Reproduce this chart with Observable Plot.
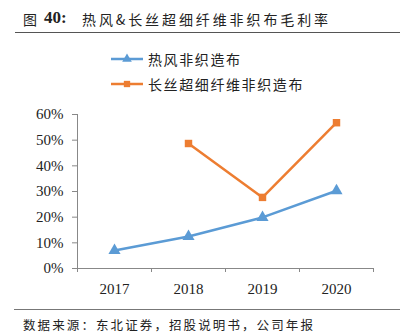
<!DOCTYPE html>
<html><head><meta charset="utf-8">
<script src="https://cdn.jsdelivr.net/npm/d3@7"></script>
<script src="https://cdn.jsdelivr.net/npm/@observablehq/plot@0.6"></script>
<style>
body{margin:0;background:#fff;width:410px;height:335px;position:relative;overflow:hidden;font-family:"Noto Sans CJK SC",sans-serif;}
.abs{position:absolute;white-space:nowrap;}
.t{top:10px;font-size:14px;color:#222;line-height:18px;}
#t1{left:23px;}
#t2{left:44px;font-family:"Liberation Serif",serif;font-weight:bold;font-size:17px;top:9px;}
#t3{left:82px;letter-spacing:2.9px;}
#tline{left:15px;top:32px;width:385px;height:0;border-top:1.5px solid #555;}
#fline{left:14px;top:309px;width:386px;height:0;border-top:1px solid #777;}
#foot{left:23px;top:317px;font-size:12.5px;letter-spacing:2.1px;color:#222;line-height:16px;}
.leg{font-size:14px;color:#222;letter-spacing:1.6px;line-height:18px;}
#chart{left:0;top:100px;}
</style></head><body>
<div id="t1" class="abs t">图</div>
<div id="t2" class="abs t">40:</div>
<div id="t3" class="abs t">热风&amp;长丝超细纤维非织布毛利率</div>
<div id="tline" class="abs"></div>
<div id="legend"></div>
<div id="chart" class="abs"></div>
<div id="fline" class="abs"></div>
<div id="foot" class="abs">数据来源：东北证券，招股说明书，公司年报</div>
<script>
const years = [2017, 2018, 2019, 2020];
const seriesNames = ["热风非织造布", "长丝超细纤维非织造布"];
const hotAir = [0.07, 0.125, 0.199, 0.303];
const filament = [null, 0.487, 0.277, 0.568];
const yTicks = [0, 0.1, 0.2, 0.3, 0.4, 0.5, 0.6];
const colors = ["#5B9BD5", "#ED7D31"];
const symbols = ["triangle", "square"];

const data = [];
years.forEach((y, i) => {
  if (hotAir[i] != null) data.push({year: y, value: hotAir[i], s: seriesNames[0]});
  if (filament[i] != null) data.push({year: y, value: filament[i], s: seriesNames[1]});
});
const bounds = [years[0] - 0.5, ...years.map(y => y + 0.5)];

const chart = Plot.plot({
  width: 410, height: 200,
  marginLeft: 77, marginRight: 37, marginTop: 14, marginBottom: 32,
  style: {fontFamily: "'Liberation Serif', serif", fontSize: "15px", color: "#222", background: "transparent"},
  x: {domain: [bounds[0], bounds[bounds.length - 1]]},
  y: {domain: [0, 0.6]},
  marks: [
    Plot.ruleX([bounds[0]], {y1: 0, y2: 0.6, stroke: "#888"}),
    Plot.ruleY([0], {stroke: "#888"}),
    Plot.axisY({ticks: yTicks, tickFormat: d3.format(".0%"), tickSize: 5, tickPadding: 9, stroke: "#888", fontSize: 15, label: null}),
    Plot.axisX({ticks: bounds, tickFormat: () => "", tickSize: 4, stroke: "#888", label: null}),
    Plot.text(years, {x: d => d, y: 0, text: d => String(d), dy: 21, fontSize: 15, fill: "#222"}),
    ...seriesNames.map((name, k) => Plot.line(data.filter(d => d.s === name), {x: "year", y: "value", stroke: colors[k], strokeWidth: 2.5})),
    ...seriesNames.map((name, k) => Plot.dot(data.filter(d => d.s === name), {x: "year", y: "value", fill: colors[k], symbol: symbols[k], r: k === 0 ? 4.5 : 4.2}))
  ]
});
document.getElementById("chart").appendChild(chart);

// legend
const leg = document.getElementById("legend");
seriesNames.forEach((name, k) => {
  const top = 50 + k * 25;
  const svg = d3.create("svg").attr("width", 34).attr("height", 14)
    .style("position", "absolute").style("left", "111px").style("top", (top + 2) + "px");
  svg.append("line").attr("x1", 0).attr("x2", 32).attr("y1", 7).attr("y2", 7).attr("stroke", colors[k]).attr("stroke-width", 2.5);
  svg.append("path").attr("transform", "translate(16,7)")
    .attr("d", d3.symbol(k === 0 ? d3.symbolTriangle : d3.symbolSquare, 40)()).attr("fill", colors[k]);
  leg.appendChild(svg.node());
  const t = document.createElement("div");
  t.className = "abs leg"; t.style.left = "148px"; t.style.top = top + "px"; t.textContent = name;
  leg.appendChild(t);
});
</script>
</body></html>
